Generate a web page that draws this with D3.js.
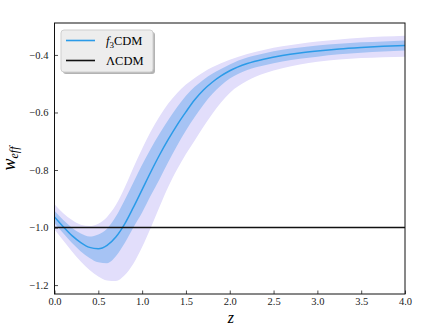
<!DOCTYPE html>
<html>
<head>
<meta charset="utf-8">
<script src="https://d3js.org/d3.v7.min.js"></script>
<style>
  body { margin: 0; background: #fff; }
  svg text { font-family: "Liberation Serif", "DejaVu Serif", serif; }
</style>
</head>
<body>
<svg id="chart" width="436" height="327"></svg>
<script>
// redshift grid and w_eff values
var zGrid = [0, 0.1, 0.2, 0.3, 0.4, 0.5, 0.6, 0.7, 0.8, 0.9, 1.0, 1.1, 1.2, 1.3, 1.4, 1.5,
             1.6, 1.7, 1.8, 1.9, 2.0, 2.2, 2.4, 2.6, 2.8, 3.0, 3.25, 3.5, 3.75, 4.0];
var wMean = [-0.963, -0.997, -1.028, -1.052, -1.069, -1.074, -1.062, -1.033, -0.988, -0.930,
             -0.868, -0.806, -0.747, -0.693, -0.643, -0.598, -0.556, -0.522, -0.495, -0.473,
             -0.455, -0.430, -0.414, -0.402, -0.393, -0.386, -0.379, -0.374, -0.370, -0.367];
// 1 sigma band
var hi1 = [-0.942, -0.974, -1.001, -1.021, -1.031, -1.024, -1.004, -0.962, -0.905, -0.843,
           -0.782, -0.725, -0.673, -0.625, -0.581, -0.542, -0.511, -0.486, -0.465, -0.449,
           -0.433, -0.409, -0.394, -0.382, -0.374, -0.367, -0.361, -0.356, -0.353, -0.350];
var lo1 = [-0.984, -1.020, -1.054, -1.083, -1.106, -1.121, -1.124, -1.100, -1.055, -1.000,
           -0.948, -0.888, -0.831, -0.771, -0.715, -0.663, -0.616, -0.573, -0.536, -0.506,
           -0.482, -0.452, -0.436, -0.423, -0.413, -0.406, -0.398, -0.392, -0.388, -0.385];
// 2 sigma band
var hi2 = [-0.919, -0.950, -0.974, -0.990, -0.995, -0.987, -0.963, -0.922, -0.862, -0.792,
           -0.726, -0.665, -0.613, -0.568, -0.532, -0.503, -0.480, -0.460, -0.443, -0.429,
           -0.417, -0.397, -0.382, -0.370, -0.361, -0.353, -0.346, -0.340, -0.336, -0.333];
var lo2 = [-1.007, -1.045, -1.083, -1.118, -1.148, -1.170, -1.184, -1.186, -1.166, -1.126,
           -1.068, -1.000, -0.927, -0.857, -0.797, -0.744, -0.697, -0.650, -0.605, -0.565,
           -0.532, -0.490, -0.464, -0.446, -0.433, -0.424, -0.416, -0.411, -0.408, -0.406];
var lcdmW = -1.0;

var xTicks = [0, 0.5, 1.0, 1.5, 2.0, 2.5, 3.0, 3.5, 4.0];
var yTicks = [-1.2, -1.0, -0.8, -0.6, -0.4];

var margin = {top: 23, right: 31, bottom: 33, left: 54.5};
var width = 436 - margin.left - margin.right;
var height = 327 - margin.top - margin.bottom;

var svg = d3.select("#chart");

var xScale = d3.scaleLinear().domain([0, 4]).range([0, width]);
var yScale = d3.scaleLinear().domain([-1.231, -0.289]).range([height, 0]);

var chart = svg.append("g")
  .attr("transform", "translate(" + margin.left + "," + margin.top + ")");

chart.append("clipPath").attr("id", "clip")
  .append("rect").attr("width", width).attr("height", height);

var rows = zGrid.map(function(z, i) {
  return {z: z, w: wMean[i], lo1: lo1[i], hi1: hi1[i], lo2: lo2[i], hi2: hi2[i]};
});

var plot = chart.append("g").attr("clip-path", "url(#clip)");

var band2 = d3.area().curve(d3.curveMonotoneX)
  .x(function(d) { return xScale(d.z); })
  .y0(function(d) { return yScale(d.lo2); })
  .y1(function(d) { return yScale(d.hi2); });
var band1 = d3.area().curve(d3.curveMonotoneX)
  .x(function(d) { return xScale(d.z); })
  .y0(function(d) { return yScale(d.lo1); })
  .y1(function(d) { return yScale(d.hi1); });
var meanLine = d3.line().curve(d3.curveMonotoneX)
  .x(function(d) { return xScale(d.z); })
  .y(function(d) { return yScale(d.w); });

plot.append("path").datum(rows).attr("d", band2).attr("fill", "#e2defb");
plot.append("path").datum(rows).attr("d", band1).attr("fill", "#a6c3f4");
plot.append("path").datum(rows).attr("d", meanLine)
  .attr("fill", "none").attr("stroke", "#2b9be8").attr("stroke-width", 1.5);

// LCDM reference line
plot.append("line")
  .attr("x1", 0).attr("x2", width)
  .attr("y1", yScale(lcdmW)).attr("y2", yScale(lcdmW))
  .attr("stroke", "#111").attr("stroke-width", 1.6);

// axes, ticks pointing inwards
var xAxis = chart.append("g")
  .attr("transform", "translate(0," + height + ")")
  .call(d3.axisBottom(xScale).tickValues(xTicks).tickSize(-3.5).tickPadding(4)
    .tickFormat(d3.format(".1f")));
var yAxis = chart.append("g")
  .call(d3.axisLeft(yScale).tickValues(yTicks).tickSize(-3.5).tickPadding(6)
    .tickFormat(function(d) { return d3.format(".1f")(d).replace("-", "\u2212"); }));

[xAxis, yAxis].forEach(function(ax) {
  ax.select(".domain").remove();
  ax.selectAll("line").attr("stroke", "#222").attr("stroke-width", 0.8);
  ax.selectAll("text")
    .style("font-family", "'Liberation Serif', 'DejaVu Serif', serif")
    .style("font-size", "10.5px").attr("fill", "#222");
});

chart.append("rect")
  .attr("width", width).attr("height", height)
  .attr("fill", "none").attr("stroke", "#111").attr("stroke-width", 1);

// axis labels
svg.append("text")
  .attr("x", margin.left + width / 2 + 1).attr("y", 323)
  .attr("text-anchor", "middle").attr("font-size", 16).attr("font-style", "italic")
  .text("z");

var yl = svg.append("text")
  .attr("transform", "translate(15," + (margin.top + height / 2) + ") rotate(-90)")
  .attr("text-anchor", "middle").attr("font-size", 18).attr("font-style", "italic");
yl.append("tspan").text("w");
yl.append("tspan").attr("font-size", 12).attr("dy", 3).text("eff");

// legend
var legend = svg.append("g").attr("transform", "translate(61,30)");
legend.append("rect").attr("x", 2).attr("y", 2).attr("width", 92).attr("height", 42)
  .attr("rx", 3).attr("fill", "#b3b3b3");
legend.append("rect").attr("width", 92).attr("height", 42)
  .attr("rx", 3).attr("fill", "#ededed").attr("stroke", "#cfcfcf");

var items = [{label: "f3CDM", color: "#2b9be8"}, {label: "\u039BCDM", color: "#111"}];
items.forEach(function(it, i) {
  var y = 10.5 + i * 20;
  legend.append("line").attr("x1", 5).attr("x2", 34).attr("y1", y).attr("y2", y)
    .attr("stroke", it.color).attr("stroke-width", 1.6);
  var t = legend.append("text").attr("x", 45).attr("y", y + 4.5).attr("font-size", 12.5);
  if (i == 0) {
    t.append("tspan").attr("font-style", "italic").text("f");
    t.append("tspan").attr("font-size", 9).attr("dy", 3).text("3");
    t.append("tspan").attr("dy", -3).text("CDM");
  } else {
    t.text(it.label);
  }
});
</script>
</body>
</html>
